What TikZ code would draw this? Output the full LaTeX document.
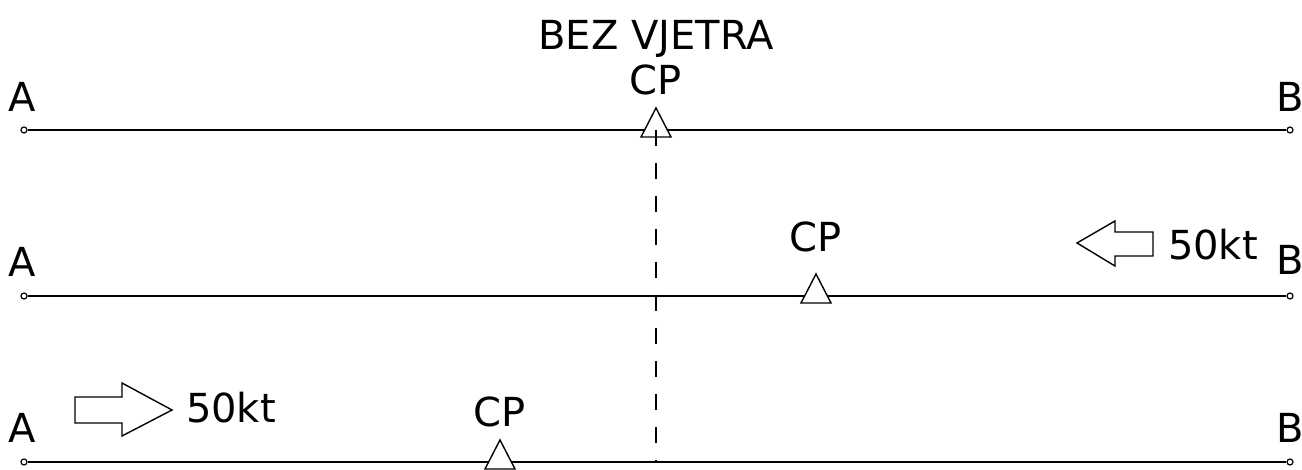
\documentclass[tikz,border=0pt]{standalone}
\usepackage{fontspec}
\setmainfont{DejaVu Sans}
\usepackage{tikz}
\usetikzlibrary{positioning}
\tikzset{endpt/.style={circle,draw,fill=white,inner sep=0pt,minimum size=6pt,line width=1.2pt},
         lbl/.style={anchor=base,inner sep=0pt,font=\fontsize{40}{48}\selectfont},
         cpmark/.style={draw,fill=white,line width=1.4pt},
         wind/.style={draw,fill=white,line width=1.4pt,line join=miter}}

\begin{document}
\begin{tikzpicture}[x=1pt,y=1pt,line width=2pt]
        \useasboundingbox (0,0) rectangle (1302,470);

        % the three tracks
        \node[endpt] (a1) at (24,340) {};
        \node[endpt] (b1) at (1290,340) {};
        \node[endpt] (a2) at (24,174) {};
        \node[endpt] (b2) at (1290,174) {};
        \node[endpt] (a3) at (24,8) {};
        \node[endpt] (b3) at (1290,8) {};
        \draw (a1) -- (b1);
        \draw (a2) -- (b2);
        \draw (a3) -- (b3);

        \node[lbl] (la1) at (22,358) {A};
        \node[lbl] (lb1) at (1290,358) {B};
        \node[lbl] (la2) at (22,193) {A};
        \node[lbl] (lb2) at (1290,195) {B};
        \node[lbl] (la3) at (22,27) {A};
        \node[lbl] (lb3) at (1290,27) {B};

        % critical points
        \coordinate (cp1) at (656,340);
        \coordinate (cp2) at (816,174);
        \coordinate (cp3) at (500,8);
        \draw[cpmark] (cp1) ++(-15,-7) -- ++(30,0) -- ++(-15,29) -- cycle;
        \draw[cpmark] (cp2) ++(-15,-7) -- ++(30,0) -- ++(-15,29) -- cycle;
        \draw[cpmark] (cp3) ++(-15,-7) -- ++(30,0) -- ++(-15,29) -- cycle;
        \node[lbl] (t1) at (656,375) {CP};
        \node[lbl] (t2) at (816,218) {CP};
        \node[lbl] (t3) at (500,43) {CP};
        \node[lbl] (title) at (656,420) {BEZ VJETRA};

        \coordinate (cpend) at (656,8);
        \draw[dash pattern=on 16pt off 17pt] (cp1) -- (cpend);

        % wind
        \draw[wind] (1077,227) -- (1115,249) -- (1115,238) -- (1153,238)
          -- (1153,214) -- (1115,214) -- (1115,204) -- cycle;
        \node[lbl,anchor=base west] (w2) at (1167,210) {50kt};
        \draw[wind] (172,60) -- (122,87) -- (122,73) -- (75,73)
          -- (75,47) -- (122,47) -- (122,34) -- cycle;
        \node[lbl,anchor=base west] (w3) at (185,47) {50kt};
    \end{tikzpicture}
\end{document}
